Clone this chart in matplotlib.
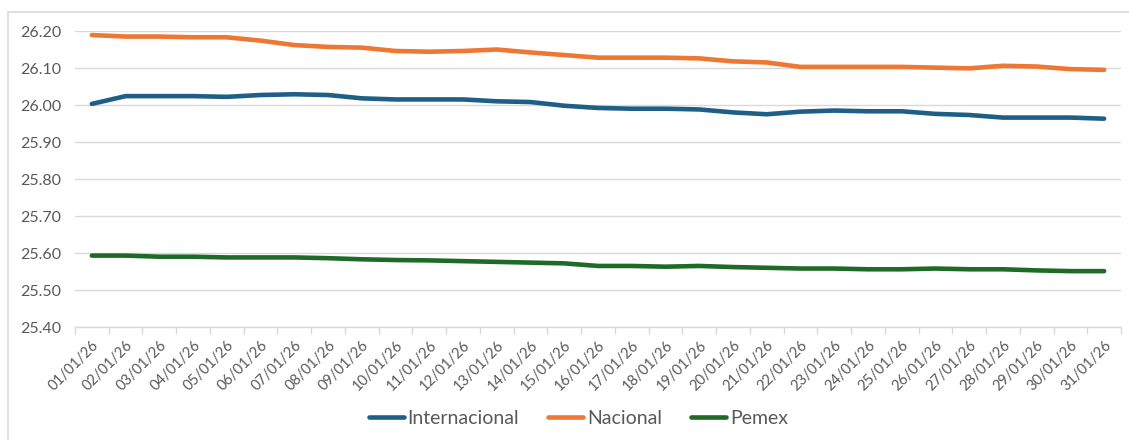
import matplotlib
matplotlib.use('Agg')
import matplotlib.pyplot as plt
from matplotlib.patches import Rectangle

# Daily rates, January 2026
dates = [f"{d:02d}/01/26" for d in range(1, 32)]

internacional = [26.003, 26.024, 26.024, 26.024, 26.022, 26.027, 26.029, 26.027,
                 26.018, 26.015, 26.015, 26.015, 26.010, 26.008, 25.998, 25.992,
                 25.990, 25.990, 25.988, 25.980, 25.975, 25.982, 25.985, 25.983,
                 25.983, 25.976, 25.973, 25.966, 25.966, 25.966, 25.963]

nacional = [26.189, 26.185, 26.185, 26.183, 26.183, 26.174, 26.162, 26.157,
            26.155, 26.146, 26.144, 26.146, 26.150, 26.142, 26.135, 26.128,
            26.128, 26.128, 26.126, 26.118, 26.115, 26.103, 26.103, 26.103,
            26.103, 26.101, 26.099, 26.106, 26.104, 26.097, 26.095]

pemex = [25.593, 25.593, 25.590, 25.590, 25.588, 25.588, 25.588, 25.586,
         25.583, 25.581, 25.580, 25.578, 25.576, 25.574, 25.572, 25.565,
         25.565, 25.563, 25.565, 25.562, 25.560, 25.558, 25.558, 25.556,
         25.556, 25.558, 25.556, 25.556, 25.553, 25.551, 25.551]

y_ticks = [25.40, 25.50, 25.60, 25.70, 25.80, 25.90, 26.00, 26.10, 26.20]

plt.rcParams['font.family'] = ['Lato', 'DejaVu Sans']

fig = plt.figure(figsize=(11.29, 4.40), dpi=100)
fig.patch.set_facecolor('white')
fig.patches.append(Rectangle((8 / 1129, -0.01), 1.02, 1 - 12 / 440 + 0.01,
                             transform=fig.transFigure, fill=False,
                             edgecolor='#d9d9d9', linewidth=1.2))

ax = fig.add_axes([75 / 1129, 1 - 327 / 440, (1121 - 75) / 1129, (327 - 31) / 440])
x = list(range(len(dates)))

ax.plot(x, internacional, color='#1f5f86', lw=3.3, solid_capstyle='round', label='Internacional')
ax.plot(x, nacional, color='#ed7733', lw=3.3, solid_capstyle='round', label='Nacional')
ax.plot(x, pemex, color='#1e6a26', lw=3.3, solid_capstyle='round', label='Pemex')

ax.set_xlim(-0.5, len(dates) - 0.5)
ax.set_ylim(25.40, 26.20)
ax.set_yticks(y_ticks)
ax.set_yticklabels([f"{v:.2f}" for v in y_ticks], fontsize=11.5, color='#595959')
ax.set_xticks(x)
ax.set_xticklabels(dates, rotation=45, ha='right', rotation_mode='anchor',
                   fontsize=10.5, color='#595959')
ax.set_xticks([i - 0.5 for i in range(len(dates) + 1)], minor=True)
ax.tick_params(axis='x', which='major', length=0, pad=8)
ax.tick_params(axis='x', which='minor', length=5, color='#d9d9d9', width=1)
ax.tick_params(axis='y', length=0, pad=10)

ax.grid(axis='y', color='#d9d9d9', linewidth=1)
ax.set_axisbelow(True)
for s in ['top', 'right', 'left']:
    ax.spines[s].set_visible(False)
ax.spines['bottom'].set_color('#d9d9d9')
ax.spines['bottom'].set_linewidth(1)

fig.legend(loc='center', bbox_to_anchor=(0.5 + 14 / 1129, 1 - 418 / 440), ncol=3,
           frameon=False, fontsize=14, handlelength=1.8, columnspacing=1.5,
           handletextpad=0.2, labelcolor='#595959')

fig.savefig('out.png', dpi=100)
